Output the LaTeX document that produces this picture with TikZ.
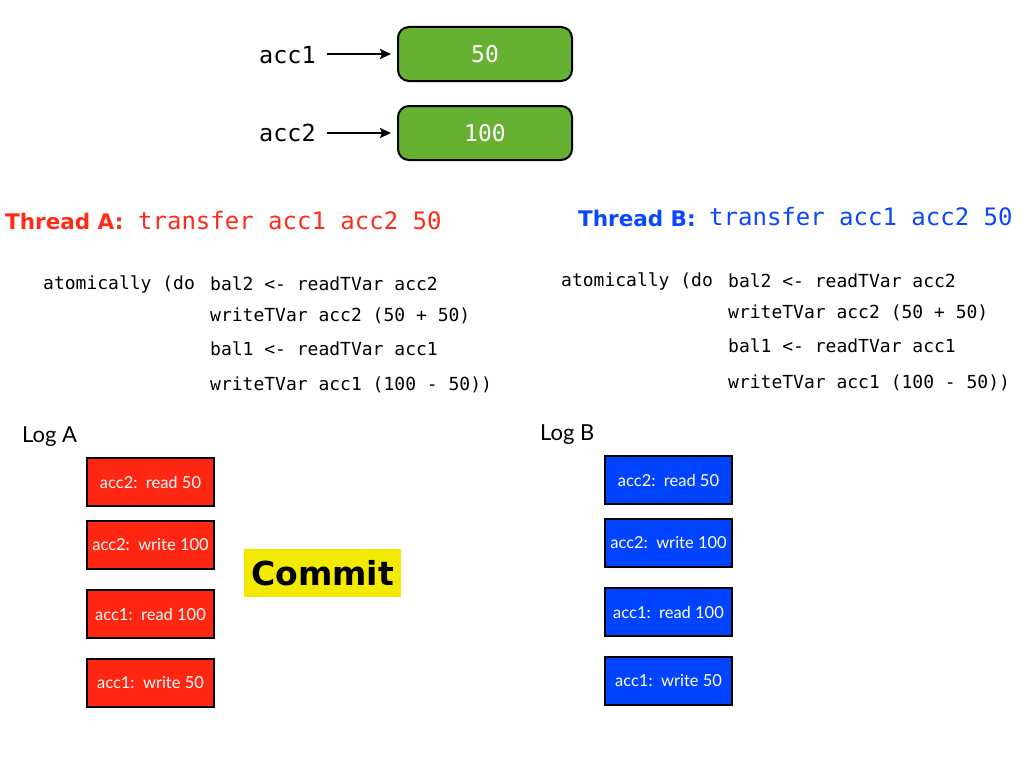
\documentclass[tikz,border=0pt]{standalone}
\usepackage{fontspec}
\usetikzlibrary{arrows.meta}
\setmainfont{Lato}
\setmonofont{DejaVu Sans Mono}
\newfontfamily\heavyfont{DejaVu Sans}
\definecolor{accgreen}{HTML}{66B032}
\definecolor{logred}{HTML}{FF2612}
\definecolor{logblue}{HTML}{0044FF}
\definecolor{txtred}{HTML}{FF2A1A}
\definecolor{txtblue}{HTML}{0A47FF}
\definecolor{cyellow}{HTML}{F2EA00}
\begin{document}
\begin{tikzpicture}[x=1pt,y=-1pt,
  tvar/.style={draw=black,line width=2pt,fill=accgreen,rounded corners=11pt,
    minimum width=174pt,minimum height=54pt,inner sep=0pt,text=white,
    font=\ttfamily\fontsize{23}{23}\selectfont},
  varlabel/.style={anchor=west,inner sep=0pt,font=\ttfamily\fontsize{23.5}{23.5}\selectfont},
  ptr/.style={-{Stealth[length=11pt,width=10pt,inset=2pt]},line width=2pt,shorten >=6pt},
  code/.style={anchor=west,inner sep=0pt,font=\ttfamily\fontsize{18}{18}\selectfont},
  logentry/.style={draw=black,line width=2pt,minimum width=127pt,minimum height=48pt,
    inner sep=0pt,text=white,font=\fontsize{16.5}{16.5}\selectfont},
  redlog/.style={logentry,fill=logred},
  bluelog/.style={logentry,fill=logblue},
  logtitle/.style={anchor=west,inner sep=0pt,font=\fontsize{22}{22}\selectfont},
  head/.style={anchor=west,inner sep=0pt,font=\heavyfont\bfseries\fontsize{21.5}{21.5}\selectfont},
  headcode/.style={anchor=west,inner sep=0pt,font=\ttfamily\fontsize{24}{24}\selectfont}]
\useasboundingbox (0,0) rectangle (1024,768);
\fill[white] (0,0) rectangle (1024,768);

% TVars
\node[tvar] (v1) at (485,54) {50};
\node[tvar] (v2) at (485,133) {100};
\node[varlabel] (l1) at (259,55) {acc1};
\node[varlabel] (l2) at (259,133) {acc2};
\coordinate (a1) at (327,54);
\coordinate (a2) at (327,133);
\draw[ptr] (a1) -- (v1.west);
\draw[ptr] (a2) -- (v2.west);

% Thread A
\node[head,text=txtred] (ha) at (5,221) {Thread A:};
\node[headcode,text=txtred] (hac) at (138,221) {transfer acc1 acc2 50};
\node[code] (ca0) at (43,284) {atomically (do};
\node[code] (ca1) at (210,284) {bal2 <- readTVar acc2};
\node[code] (ca2) at (210,316) {writeTVar acc2 (50 + 50)};
\node[code] (ca3) at (210,349) {bal1 <- readTVar acc1};
\node[code] (ca4) at (210,385) {writeTVar acc1 (100 - 50))};

% Thread B
\node[head,text=txtblue] (hb) at (578,218) {Thread B:};
\node[headcode,text=txtblue] (hbc) at (709,217) {transfer acc1 acc2 50};
\node[code] (cb0) at (561,281) {atomically (do};
\node[code] (cb1) at (728,281) {bal2 <- readTVar acc2};
\node[code] (cb2) at (728,313) {writeTVar acc2 (50 + 50)};
\node[code] (cb3) at (728,346) {bal1 <- readTVar acc1};
\node[code] (cb4) at (728,383) {writeTVar acc1 (100 - 50))};

% Log A
\node[logtitle] (la) at (22,437) {Log A};
\node[redlog] (ra1) at (150.5,482) {acc2:\ \ read 50};
\node[redlog] (ra2) at (150.5,545) {acc2:\ \ write 100};
\node[redlog] (ra3) at (150.5,614) {acc1:\ \ read 100};
\node[redlog] (ra4) at (150.5,683) {acc1:\ \ write 50};

% Commit
\node[fill=cyellow,minimum width=157pt,minimum height=48pt,inner sep=0pt,
  font=\heavyfont\bfseries\fontsize{33}{33}\selectfont] (commit) at (322.5,573) {Commit};

% Log B
\node[logtitle] (lb) at (540,435) {Log B};
\node[bluelog] (rb1) at (668.5,480) {acc2:\ \ read 50};
\node[bluelog] (rb2) at (668.5,543) {acc2:\ \ write 100};
\node[bluelog] (rb3) at (668.5,612) {acc1:\ \ read 100};
\node[bluelog] (rb4) at (668.5,681) {acc1:\ \ write 50};
\end{tikzpicture}
\end{document}
